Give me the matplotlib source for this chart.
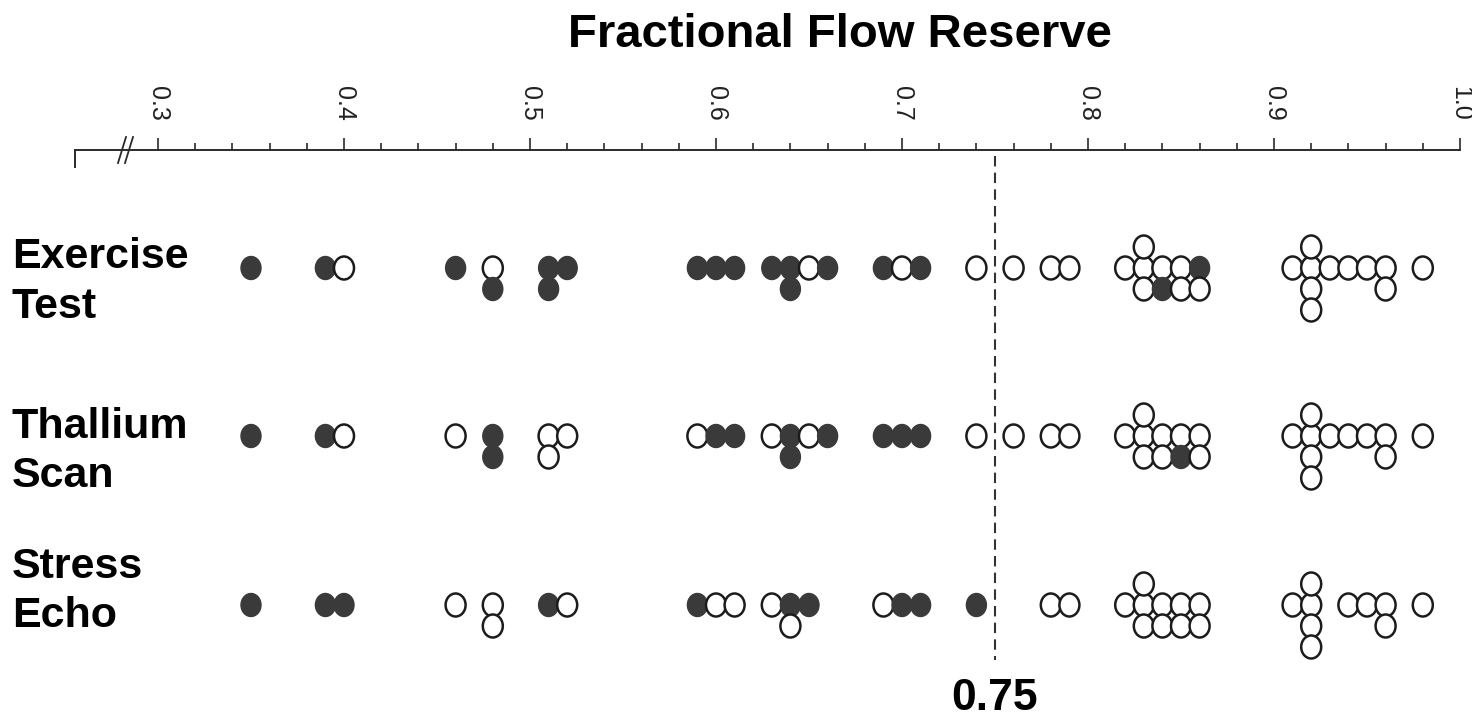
import numpy as np
import matplotlib
matplotlib.use("Agg")
import matplotlib.pyplot as plt
from matplotlib.patches import Ellipse
from matplotlib.ticker import FixedLocator

plt.rcParams['font.family'] = ['Liberation Sans', 'DejaVu Sans']

# ---------------- data ----------------
title = "Fractional Flow Reserve"
row_labels = [("Exercise", "Test"), ("Thallium", "Scan"), ("Stress", "Echo")]
cutoff = 0.75
cutoff_label = "0.75"
major_ticks = [0.3, 0.4, 0.5, 0.6, 0.7, 0.8, 0.9, 1.0]
tick_labels = ["0.3", "0.4", "0.5", "0.6", "0.7", "0.8", "0.9", "1.0"]

# each entry = one patient; repeated values stack (centre, below, above, below)
exercise_ffr = [0.35, 0.39, 0.40, 0.46, 0.48, 0.48, 0.51, 0.51, 0.52,
                0.59, 0.60, 0.61, 0.63, 0.64, 0.64, 0.65, 0.66,
                0.69, 0.70, 0.71, 0.74, 0.76, 0.78, 0.79,
                0.82, 0.83, 0.83, 0.83, 0.84, 0.84, 0.85, 0.85, 0.86, 0.86,
                0.91, 0.92, 0.92, 0.92, 0.92, 0.93, 0.94, 0.95, 0.96, 0.96, 0.98]
exercise_pos = [1, 1, 0, 1, 0, 1, 1, 1, 1,
                1, 1, 1, 1, 1, 1, 0, 1,
                1, 0, 1, 0, 0, 0, 0,
                0, 0, 0, 0, 0, 1, 0, 0, 1, 0,
                0, 0, 0, 0, 0, 0, 0, 0, 0, 0, 0]

thallium_ffr = [0.35, 0.39, 0.40, 0.46, 0.48, 0.48, 0.51, 0.51, 0.52,
                0.59, 0.60, 0.61, 0.63, 0.64, 0.64, 0.65, 0.66,
                0.69, 0.70, 0.71, 0.74, 0.76, 0.78, 0.79,
                0.82, 0.83, 0.83, 0.83, 0.84, 0.84, 0.85, 0.85, 0.86, 0.86,
                0.91, 0.92, 0.92, 0.92, 0.92, 0.93, 0.94, 0.95, 0.96, 0.96, 0.98]
thallium_pos = [1, 1, 0, 0, 1, 1, 0, 0, 0,
                0, 1, 1, 0, 1, 1, 0, 1,
                1, 1, 1, 0, 0, 0, 0,
                0, 0, 0, 0, 0, 0, 0, 1, 0, 0,
                0, 0, 0, 0, 0, 0, 0, 0, 0, 0, 0]

echo_ffr = [0.35, 0.39, 0.40, 0.46, 0.48, 0.48, 0.51, 0.52,
            0.59, 0.60, 0.61, 0.63, 0.64, 0.64, 0.65,
            0.69, 0.70, 0.71, 0.74, 0.78, 0.79,
            0.82, 0.83, 0.83, 0.83, 0.84, 0.84, 0.85, 0.85, 0.86, 0.86,
            0.91, 0.92, 0.92, 0.92, 0.92, 0.94, 0.95, 0.96, 0.96, 0.98]
echo_pos = [1, 1, 1, 0, 0, 0, 1, 0,
            1, 0, 0, 0, 1, 0, 1,
            0, 1, 1, 1, 0, 0,
            0, 0, 0, 0, 0, 0, 0, 0, 0, 0,
            0, 0, 0, 0, 0, 0, 0, 0, 0, 0]

rows = [(exercise_ffr, exercise_pos), (thallium_ffr, thallium_pos), (echo_ffr, echo_pos)]

# ---------------- layout (pixels) ----------------
W, H = 1472, 722
PX_LO, PX_HI = 158, 1460          # pixel positions of 0.3 and 1.0
PPU = (PX_HI - PX_LO) / 0.7
X0 = 0.3 - PX_LO / PPU
X1 = 1.0 + (W - PX_HI) / PPU
AXIS_Y = 150
AXIS_LEFT_PX = 75
BREAK_PX = 122
ROW_Y = [268, 436, 605]
STEP = 21
LEVEL_ORDER = [0, 1, -1, 2, -2, 3]
DOT_W, DOT_H = 20.0, 23.0
LABEL_X = 12
LABEL_BASE = [(268, 318), (438, 487), (578, 627)]
FILL_C = '#3a3a3a'
EDGE_C = '#1c1c1c'

fig = plt.figure(figsize=(W / 100, H / 100), dpi=100)
ax = fig.add_axes([0, 0, 1, 1])
ax.set_xlim(X0, X1)
ax.set_ylim(H, 0)
ax.set_facecolor('white')

def px2x(px):
    return X0 + px / PPU

# axis
for s in ['left', 'right', 'bottom']:
    ax.spines[s].set_visible(False)
ax.spines['top'].set_position(('data', AXIS_Y))
ax.spines['top'].set_bounds(px2x(AXIS_LEFT_PX), 1.0)
ax.spines['top'].set_linewidth(1.4)
ax.spines['top'].set_color('#2a2a2a')
ax.xaxis.set_ticks_position('top')
ax.xaxis.set_major_locator(FixedLocator(major_ticks))
ax.set_xticklabels(tick_labels)
ax.xaxis.set_minor_locator(FixedLocator(list(np.linspace(0.3, 1.0, 36))))
ax.tick_params(axis='x', which='major', direction='out', length=9, width=1.2,
               color='#2a2a2a', pad=12, labelsize=18, labelrotation=-90,
               labelcolor='#222222')
ax.tick_params(axis='x', which='minor', direction='out', length=5, width=1.2,
               color='#2a2a2a')
ax.yaxis.set_visible(False)

# left bracket and axis break
ax.plot([px2x(AXIS_LEFT_PX)] * 2, [AXIS_Y, AXIS_Y + 18], color='#2a2a2a',
        lw=1.4, solid_capstyle='butt')
for off in (0, 7):
    xb = BREAK_PX + off
    ax.plot([px2x(xb - 4), px2x(xb + 4)], [AXIS_Y + 13, AXIS_Y - 13],
            color='#2a2a2a', lw=1.3)

# cutoff line
ax.plot([cutoff, cutoff], [AXIS_Y + 6, 660], color='#333333', lw=1.5,
        dashes=(5, 3))
ax.text(cutoff, 710, cutoff_label, ha='center', va='baseline',
        fontsize=32, fontweight='bold', color='black')

# title
fig.text(840 / W, 1 - 47 / H, title, ha='center', va='baseline',
         fontsize=34, fontweight='bold', color='black')

# row labels
for (l1, l2), (b1, b2) in zip(row_labels, LABEL_BASE):
    ax.text(px2x(LABEL_X), b1, l1, ha='left', va='baseline', fontsize=31,
            fontweight='bold', color='black')
    ax.text(px2x(LABEL_X), b2, l2, ha='left', va='baseline', fontsize=31,
            fontweight='bold', color='black')

# dots
for (vals, pos), ry in zip(rows, ROW_Y):
    seen = {}
    for v, p in zip(vals, pos):
        k = round(v, 3)
        n = seen.get(k, 0)
        seen[k] = n + 1
        y = ry + LEVEL_ORDER[n] * STEP
        if p:
            e = Ellipse((v, y), DOT_W / PPU, DOT_H, facecolor=FILL_C,
                        edgecolor=FILL_C, lw=1.0, zorder=3)
        else:
            e = Ellipse((v, y), DOT_W / PPU, DOT_H, facecolor='white',
                        edgecolor=EDGE_C, lw=1.8, zorder=3)
        ax.add_patch(e)

fig.savefig('out.png', dpi=100, facecolor='white')
